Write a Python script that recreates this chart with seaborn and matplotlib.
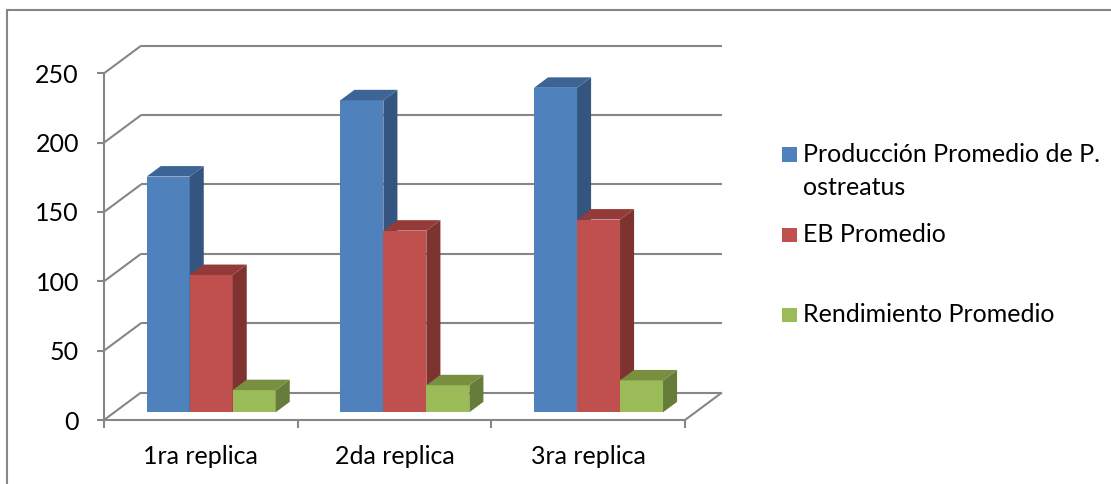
import matplotlib
matplotlib.use("Agg")
import matplotlib.pyplot as plt
from matplotlib.patches import Polygon, Rectangle
import pandas as pd
import seaborn as sns

# ---- data -------------------------------------------------------------
categories = ["1ra replica", "2da replica", "3ra replica"]
series = ["Producción Promedio de P. ostreatus", "EB Promedio", "Rendimiento Promedio"]
produccion = [170, 225, 234]
eb_promedio = [99, 131, 139]
rendimiento = [16, 19.5, 23]
y_ticks = [0, 50, 100, 150, 200, 250]

# ---- styling ----------------------------------------------------------
front_colors = ["#4F81BD", "#C0504D", "#9BBB59"]
side_colors = ["#34557F", "#7E3331", "#667C3A"]
top_colors = ["#3C6494", "#943B39", "#778F3F"]
grid_color = "#868686"
FS = 18

sns.set_style("white")
plt.rcParams["font.family"] = ["Lato", "DejaVu Sans"]

df = pd.DataFrame({
    "replica": categories * 3,
    "serie": [s for s in series for _ in categories],
    "valor": produccion + eb_promedio + rendimiento,
})

W, H = 1111, 484
fig = plt.figure(figsize=(W / 100, H / 100), dpi=100)

# front plane of the 3-D box; the extra range holds the depth of the box
ax = fig.add_axes([104 / W, (H - 420) / H, (722 - 104) / W, (420 - 45.8) / H])
dX = 37 / 193.67          # depth offset in category units
dY = 27.5 / 1.3868        # depth offset in value units
ymax = y_ticks[-1]

sns.barplot(data=df, x="replica", y="valor", hue="serie", order=categories,
            hue_order=series, palette=front_colors, saturation=1, width=0.666,
            linewidth=0, legend=False, ax=ax)

x0, x1 = -0.5, len(categories) - 0.5
ax.set_xlim(x0, x1 + dX)
ax.set_ylim(0, ymax + dY)

# back wall, side wall and floor
line_kw = dict(color=grid_color, lw=1.5, clip_on=False, zorder=1,
               solid_capstyle="butt")
for v in y_ticks:
    ax.plot([x0 + dX, x1 + dX], [v + dY, v + dY], **line_kw)
    ax.plot([x0, x0 + dX], [v, v + dY], **line_kw)
ax.plot([x1, x1 + dX], [0, dY], **line_kw)

# 3-D bars: front face shifted into the box, plus side and top faces
f0, f1 = 0.28, 0.66
depth = f1 - f0
for i, cont in enumerate(ax.containers):
    for j, rect in enumerate(cont):
        h = rect.get_height()
        bx0 = rect.get_x() + f0 * dX
        bw = rect.get_width()
        by0 = f0 * dY
        rect.set_x(bx0)
        rect.set_y(by0)
        z = 10 + j * 3 + i
        rect.set_zorder(z)
        bx1 = bx0 + bw
        by1 = by0 + h
        side = Polygon([(bx1, by0), (bx1 + depth * dX, by0 + depth * dY),
                        (bx1 + depth * dX, by1 + depth * dY), (bx1, by1)],
                       closed=True, fc=side_colors[i], ec="none", zorder=z)
        top = Polygon([(bx0, by1), (bx1, by1),
                       (bx1 + depth * dX, by1 + depth * dY),
                       (bx0 + depth * dX, by1 + depth * dY)],
                      closed=True, fc=top_colors[i], ec="none", zorder=z)
        ax.add_patch(side)
        ax.add_patch(top)

# axes lines and ticks
for s in ["top", "right"]:
    ax.spines[s].set_visible(False)
for s in ["left", "bottom"]:
    ax.spines[s].set_color(grid_color)
    ax.spines[s].set_linewidth(1.5)
    ax.spines[s].set_zorder(2)
ax.spines["left"].set_bounds(0, ymax)
ax.spines["bottom"].set_bounds(x0, x1)

ax.set_yticks(y_ticks)
ax.set_yticklabels([str(v) for v in y_ticks])
ax.set_xticks(range(len(categories)))
ax.set_xticklabels(categories)
ax.set_xticks([x0 + k for k in range(len(categories) + 1)], minor=True)
ax.tick_params(axis="y", left=True, length=5, width=1.5, color=grid_color,
               pad=13, labelsize=FS, labelcolor="black")
ax.tick_params(axis="x", which="major", bottom=True, length=0, pad=18,
               labelsize=FS, labelcolor="black")
ax.tick_params(axis="x", which="minor", bottom=True, length=6, width=1.5,
               color=grid_color)
ax.set_xlabel("")
ax.set_ylabel("")
ax.patch.set_alpha(0)

# legend
leg_items = [
    (front_colors[0], ["Producción Promedio de P.", "ostreatus"], 161.7),
    (front_colors[1], ["EB Promedio"], 242.3),
    (front_colors[2], ["Rendimiento Promedio"], 322.3),
]
for color, lines, base in leg_items:
    fig.patches.append(Rectangle((782 / W, (H - base) / H), 15 / W, 14.5 / H,
                                 transform=fig.transFigure, fc=color, ec="none"))
    for k, line in enumerate(lines):
        fig.text(803 / W, (H - base - k * 33.3) / H, line, fontsize=FS,
                 va="baseline", ha="left", color="black")

# chart border
fig.patches.append(Rectangle((7 / W, -0.5), 2, (H - 10) / H + 0.5,
                             transform=fig.transFigure, fill=False,
                             ec=grid_color, lw=1.5))

fig.savefig("out.png", dpi=100)
